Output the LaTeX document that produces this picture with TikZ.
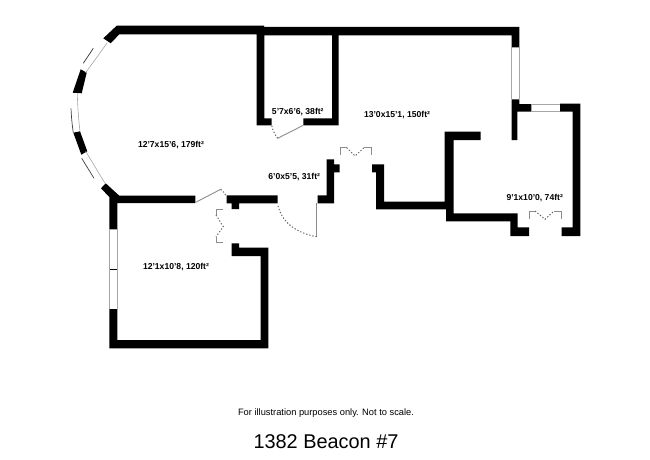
\documentclass[tikz,border=0pt]{standalone}
\usepackage{fontspec}
\setmainfont{Liberation Sans}
\usepackage{tikz}

\begin{document}
\begin{tikzpicture}[x=1pt, y=-1pt,
	wall/.style={fill=black},
	pane/.style={draw=black!35, line width=0.6pt},
	sliver/.style={draw=black!75, line width=0.7pt},
	leaf/.style={draw=black!45, line width=0.9pt},
	swing/.style={draw=black!60, line width=1pt, dash pattern=on 1.3pt off 1.9pt},
	room/.style={font=\bfseries\fontsize{8.6}{10}\selectfont, inner sep=0pt},
	]
	\useasboundingbox (0,0) rectangle (650,460);
	
	% outer walls
	\fill[wall] (103.3,38.3) -- (116.7,25.7) -- (264,25.7) -- (264,27) -- (519.3,27) -- (519.3,47.3) -- (511.7,47.3) -- (511.7,35.3) -- (338.7,35.3) -- (338.7,125.3) -- (303.3,125.3) -- (303.3,118.3) -- (332,118.3) -- (332,35.3) -- (264.3,35.3) -- (264.3,118.3) -- (271.7,118.3) -- (271.7,125.3) -- (256.7,125.3) -- (256.7,34.3) -- (119.3,34.3) -- (110.7,43.3) -- cycle;
	\fill[wall] (80.7,69.3) -- (86.7,72.7) -- (81.7,93.3) -- (72.7,92.7) -- cycle;
	\fill[wall] (73.3,132.7) -- (80,131.3) -- (87.3,151.3) -- (81.3,154.7) -- cycle;
	\fill[wall] (101,188.3) -- (105.7,183.3) -- (119.3,195.7) -- (195.3,195.7) -- (195.3,203) -- (117.3,203) -- (117.3,229.3) -- (109.3,229.3) -- (109.3,197) -- cycle;
	\fill[wall] (109.3,309) -- (117.3,309) -- (117.3,340) -- (260.7,340) -- (260.7,256) -- (231.7,256) -- (231.7,243.3) -- (239,243.3) -- (239,247.7) -- (268.3,247.7) -- (268.3,348.3) -- (109.3,348.3) -- cycle;
	\fill[wall] (109.3,268.6) rectangle (117.3,270.2);
	
	% inner walls
	\fill[wall] (226.7,195.3) -- (277.7,195.3) -- (277.7,203.3) -- (239,203.3) -- (239,209) -- (231.7,209) -- (231.7,203.3) -- (226.7,203.3) -- cycle;
	\fill[wall] (326.7,159.3) -- (334,159.3) -- (334,164.3) -- (339.7,164.3) -- (339.7,172.3) -- (334,172.3) -- (334,203.3) -- (317.7,203.3) -- (317.7,195.3) -- (326.7,195.3) -- cycle;
	\fill[wall] (372,164.3) -- (384,164.3) -- (384,201.7) -- (444.7,201.7) -- (444.7,131.7) -- (480.7,131.7) -- (480.7,140) -- (453.7,140) -- (453.7,213.3) -- (517.7,213.3) -- (517.7,227.3) -- (529,227.3) -- (529,236) -- (510.3,236) -- (510.3,221.3) -- (446,221.3) -- (446,209.3) -- (376,209.3) -- (376,172.3) -- (372,172.3) -- cycle;
	\fill[wall] (511.7,99.3) -- (519.3,99.3) -- (519.3,104) -- (531.3,104) -- (531.3,111.7) -- (517.3,111.7) -- (517.3,140) -- (511.7,140) -- cycle;
	\fill[wall] (560,103.5) -- (580.3,103.5) -- (580.3,236) -- (561.7,236) -- (561.7,227.3) -- (572.7,227.3) -- (572.7,111.7) -- (560,111.7) -- cycle;
	
	% windows
	\draw[pane] (511.7,47.3) -- (511.7,99.3) (519.3,47.3) -- (519.3,99.3);
	\draw[pane] (531.3,104) -- (560,104) (531.3,111.7) -- (560,111.7);
	\draw[pane] (109.3,229.3) -- (109.3,309) (117.3,229.3) -- (117.3,309);
	\draw[pane] (107.3,42.7) -- (85.7,72.7);
	\draw[pane] (77.3,93.3) .. controls (77.6,106) and (78.5,119) .. (80,131.7);
	\draw[pane] (85.7,151.3) -- (105,183.3);
	\draw[sliver] (93.3,48.3) -- (83.3,63.3);
	\draw[sliver] (71,108.3) .. controls (71.3,116) and (72,124) .. (73.3,132.7);
	\draw[sliver] (81.7,158.3) -- (94,178.3);
	
	% doors
	\draw[leaf] (303.3,125.3) -- (277.7,138.3);
	\draw[swing] (277.7,138.3) .. controls (274.5,134) and (272.5,130) .. (271.7,125.3);
	\draw[leaf] (195.7,202.3) -- (220.7,189.3);
	\draw[swing] (220.7,189.3) .. controls (223,191) and (225,193.5) .. (226.7,196.7);
	\draw[leaf] (316.7,203.3) -- (316.7,236.7);
	\draw[swing] (316.7,236.7) .. controls (296,233) and (281,222) .. (277.7,204);
	\draw[leaf] (223.3,209.3) -- (216,209.3) -- (216,215);
	\draw[swing] (216,215) -- (223.3,226.7) -- (216,236.7);
	\draw[leaf] (216,236.7) -- (216,242.7) -- (223.3,242.7);
	\draw[leaf] (340,155) -- (340,147.7) -- (346.7,147.7);
	\draw[swing] (346.7,147.7) -- (355,156) -- (364,147.7);
	\draw[leaf] (364,147.7) -- (371.7,147.7) -- (371.7,155);
	\draw[leaf] (529.3,219) -- (529.3,211) -- (535,211);
	\draw[swing] (535,211) -- (545,219.3) -- (554,211);
	\draw[leaf] (554,211) -- (561.3,211) -- (561.3,219);
	
	% labels
	\node[room] (living) at (171,145.3) {12'7x15'6, 179ft²};
	\node[room] (closet) at (297.8,112) {5'7x6'6, 38ft²};
	\node[room] (dining) at (397,115) {13'0x15'1, 150ft²};
	\node[room] (hall) at (294.2,177) {6'0x5'5, 31ft²};
	\node[room] (kitchen) at (534.7,197.7) {9'1x10'0, 74ft²};
	\node[room] (bedroom) at (176,267) {12'1x10'8, 120ft²};
	\node[font=\fontsize{9.3}{11}\selectfont, inner sep=0pt] (note) at (326,413) {For illustration purposes only. Not to scale.};
	\node[font=\fontsize{19.9}{22}\selectfont, inner sep=0pt] (title) at (326,442) {1382 Beacon \#7};
\end{tikzpicture}
\end{document}
